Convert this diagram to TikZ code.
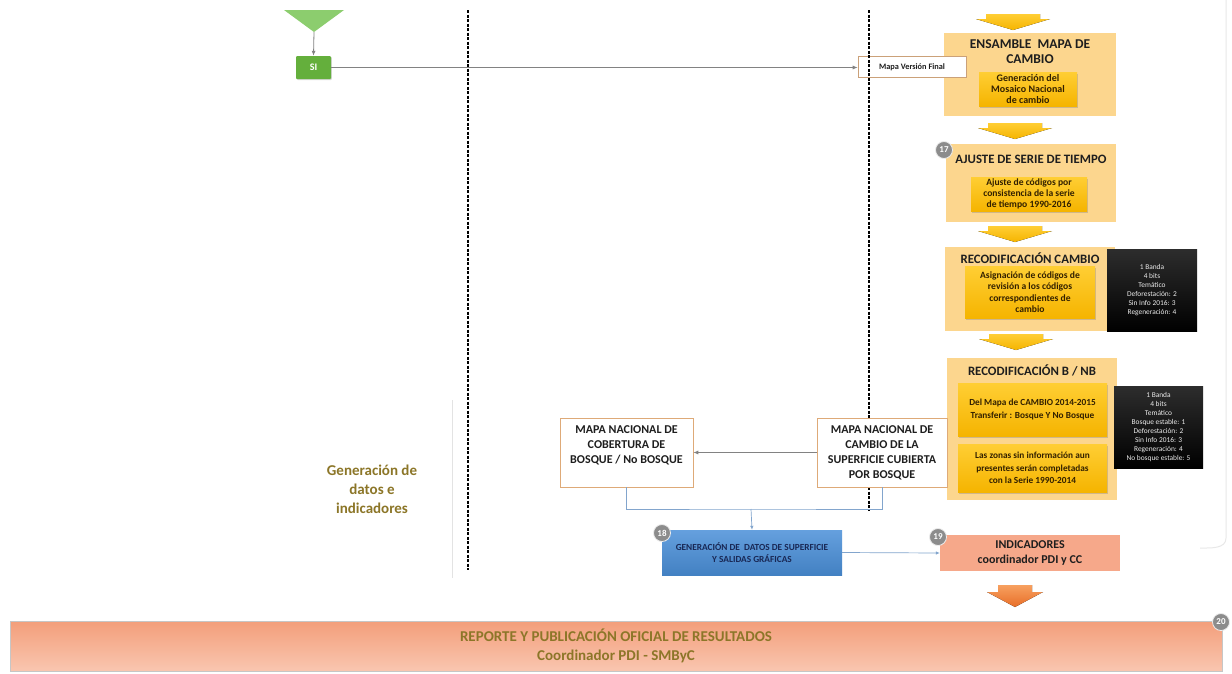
\documentclass[tikz,border=0pt]{standalone}
\usepackage{fontspec}
\setmainfont{Carlito}
\usetikzlibrary{arrows.meta,shadows,calc}
\definecolor{bigc}{RGB}{252,214,142}
\definecolor{goldtop}{RGB}{255,206,52}
\definecolor{goldbot}{RGB}{245,180,0}
\definecolor{titlec}{RGB}{30,30,30}
\definecolor{innertext}{RGB}{50,32,0}
\definecolor{mapborder}{RGB}{222,170,120}
\definecolor{conngray}{RGB}{130,130,130}
\definecolor{connblue}{RGB}{130,165,205}
\definecolor{badgec}{RGB}{140,140,140}
\definecolor{greentri}{RGB}{140,205,110}
\definecolor{greensi}{RGB}{100,175,60}
\definecolor{bluegen}{RGB}{74,143,216}
\definecolor{navytext}{RGB}{25,40,85}
\definecolor{salmon}{RGB}{246,168,138}
\definecolor{salmontop}{RGB}{243,158,122}
\definecolor{salmonbot}{RGB}{249,198,176}
\definecolor{olivec}{RGB}{140,118,40}
\definecolor{orangetop}{RGB}{247,160,95}
\definecolor{orangebot}{RGB}{232,110,40}
\newcommand\gldarrow[2]{%
  \fill[top color=goldtop, bottom color=goldbot]
    (#1-27,#2) -- (#1+27,#2) -- (#1+27,#2+5) -- (#1+37,#2+5) -- (#1,#2+16)
    -- (#1-37,#2+5) -- (#1-27,#2+5) -- cycle;}
\begin{document}
\begin{tikzpicture}[x=1pt,y=-1pt,
  bigbox/.style={fill=bigc, draw=none, inner sep=0pt},
  titletxt/.style={font=\fontsize{12.8}{15}\selectfont\bfseries, text=titlec, align=center, inner sep=0pt},
  innerbox/.style={top color=goldtop, bottom color=goldbot,
     drop shadow={shadow xshift=1pt, shadow yshift=-1.5pt, opacity=0.35},
     inner sep=0pt, align=center, font=\fontsize{9.6}{11}\selectfont\bfseries, text=innertext},
  blackbox/.style={top color={rgb,255:red,45;green,45;blue,45}, bottom color=black,
     text=white!85!gray, font=\fontsize{7.4}{9}\selectfont, align=center, inner sep=0pt},
  mapbox/.style={draw=mapborder, fill=white, line width=0.6pt, align=center,
     font=\fontsize{12}{15}\selectfont\bfseries, text=titlec, inner sep=0pt},
  badge/.style={circle, fill=badgec, draw=white!85!gray, line width=0.8pt, minimum size=17pt,
     inner sep=0pt, text=white, font=\fontsize{9}{9}\selectfont\bfseries},
  conn/.style={draw=conngray, line width=0.8pt, -{Latex[length=5pt,width=4pt]}},
  bconn/.style={draw=connblue, line width=0.7pt},
  sep/.style={draw=black, line width=1.1pt, dash pattern=on 3pt off 1.5pt},
]
\useasboundingbox[fill=white] (0,0) rectangle (1232,673);

% faint frame lines
\draw[gray!22, line width=0.8pt] (452,400) -- (452,578);
\draw[gray!18, line width=1pt] (1226,0) -- (1226,538) to[out=270,in=0] (1200,548);

% gold arrows
\gldarrow{1013}{14}
\gldarrow{1015}{123}
\gldarrow{1015}{226}
\gldarrow{1016}{334}

% box 1
\node[bigbox, minimum width=172, minimum height=83] (b1) at (1030,74.5) {};
\node[titletxt, font=\fontsize{13.5}{15}\selectfont\bfseries] (t1) at (1030,52) {ENSAMBLE\ \ MAPA DE\\CAMBIO};
\node[innerbox, minimum width=98, minimum height=34, font=\fontsize{10}{11}\selectfont\bfseries] (i1) at (1028,89) {Generación del\\Mosaico Nacional\\de cambio};

% start triangle and SI
\fill[greentri] (284,10) -- (344,10) -- (314,32) -- cycle;
\coordinate (tri) at (314,32);
\node[fill=greensi, rounded corners=1pt, minimum width=35, minimum height=23, inner sep=0pt,
      text=white, font=\fontsize{10}{10}\selectfont\bfseries,
      drop shadow={shadow xshift=0.8pt, shadow yshift=-1pt, opacity=0.3}] (si) at (313.5,67.5) {SI};
\draw[conn] (tri) -- (si.north);

% Mapa Version Final
\node[draw=mapborder!80!gray, fill=white, line width=0.6pt, minimum width=108, minimum height=21,
      inner sep=0pt, font=\fontsize{8.3}{9}\selectfont\bfseries, text=titlec] (mvf) at (912,67) {Mapa Versión Final};
\draw[conn] (si.east) -- (si.east -| mvf.west);

% separators
\draw[sep] (468,10) -- (468,570);
\draw[sep] (869,10) -- (869,510);

% box 2
\node[bigbox, minimum width=170, minimum height=78] (b2) at (1031,183) {};
\node[titletxt] (t2) at (1031,159) {AJUSTE DE SERIE DE TIEMPO};
\node[innerbox, minimum width=116, minimum height=34] (i2) at (1029,194) {Ajuste de códigos por\\consistencia de la serie\\de tiempo 1990-2016};
\node[badge] (n17) at (944,150) {17};

% box 3
\node[bigbox, minimum width=170, minimum height=84] (b3) at (1030,289) {};
\node[titletxt] (t3) at (1030,258) {RECODIFICACIÓN CAMBIO};
\node[innerbox, minimum width=130, minimum height=52, font=\fontsize{9.6}{11.5}\selectfont\bfseries] (i3) at (1030,292) {Asignación de códigos de\\revisión a los códigos\\correspondientes de\\cambio};
\node[blackbox, minimum width=90, minimum height=82] (k3) at (1152,290) {1 Banda\\4 bits\\Temático\\Deforestación: 2\\Sin Info 2016: 3\\Regeneración: 4};

% box 4
\node[bigbox, minimum width=170, minimum height=142] (b4) at (1032,429) {};
\node[titletxt] (t4) at (1032,370) {RECODIFICACIÓN B / NB};
\node[innerbox, minimum width=149, minimum height=53, font=\fontsize{9.3}{13}\selectfont\bfseries] (i4a) at (1032.5,409.5) {Del Mapa de CAMBIO 2014-2015\\Transferir : Bosque Y No Bosque};
\node[innerbox, minimum width=149, minimum height=48, font=\fontsize{9.3}{12.5}\selectfont\bfseries] (i4b) at (1032.5,468) {Las zonas sin información aun\\presentes serán completadas\\con la Serie 1990-2014};
\node[blackbox, minimum width=89, minimum height=82] (k4) at (1158.5,427) {1 Banda\\4 bits\\Temático\\Bosque estable: 1\\Deforestación: 2\\Sin Info 2016: 3\\Regeneración: 4\\No bosque estable: 5};

% map boxes
\node[mapbox, minimum width=130, minimum height=69] (cam) at (882,452.5) {MAPA NACIONAL DE\\CAMBIO DE LA\\SUPERFICIE CUBIERTA\\POR BOSQUE};
\node[mapbox, minimum width=133, minimum height=69] (cob) at (626.5,452.5) {MAPA NACIONAL DE\\COBERTURA DE\\BOSQUE / No BOSQUE\\\mbox{}};
\draw[conn] (cam.west) -- (cob.east);

% generation + indicators
\node[top color=bluegen!85!white, bottom color=bluegen!90!black, minimum width=180, minimum height=45, inner sep=0pt,
      align=center, font=\fontsize{9.3}{12}\selectfont\bfseries, text=navytext] (gen) at (752,552.5)
      {GENERACIÓN DE\ \ DATOS DE SUPERFICIE\\Y SALIDAS GRÁFICAS};
\node[fill=salmon, minimum width=180, minimum height=36, inner sep=0pt, align=center,
      font=\fontsize{12}{15}\selectfont\bfseries, text=titlec] (ind) at (1030,553)
      {INDICADORES\\coordinador PDI y CC};
\coordinate (junc) at (751,509);
\draw[bconn] (cob.south) |- (junc) -| (cam.south);
\draw[bconn, -{Latex[length=4pt,width=3.5pt]}] (junc) -- (gen.north);
\draw[bconn, -{Latex[length=4pt,width=3.5pt]}] (gen.east) -- (ind.west);
\node[badge] (n18) at (662,533) {18};
\node[badge] (n19) at (938,537) {19};

% orange arrow
\fill[top color=orangetop, bottom color=orangebot]
  (998,585) -- (1032,585) -- (1032,592) -- (1043,592) -- (1015,607) -- (987,592) -- (998,592) -- cycle;

% bottom bar
\node[top color=salmontop, bottom color=salmonbot, draw=gray!45, line width=0.5pt,
      minimum width=1212, minimum height=50, inner sep=0pt, align=center,
      font=\fontsize{15}{19}\selectfont\bfseries, text=olivec] (rep) at (616,646)
      {REPORTE Y PUBLICACIÓN OFICIAL DE RESULTADOS\\Coordinador PDI - SMByC};
\node[badge] (n20) at (1221,622) {20};

% left label
\node[align=center, font=\fontsize{15}{19}\selectfont\bfseries, text=olivec, inner sep=0pt] (lab) at (372,489)
  {Generación de\\datos e\\indicadores};
\end{tikzpicture}
\end{document}
